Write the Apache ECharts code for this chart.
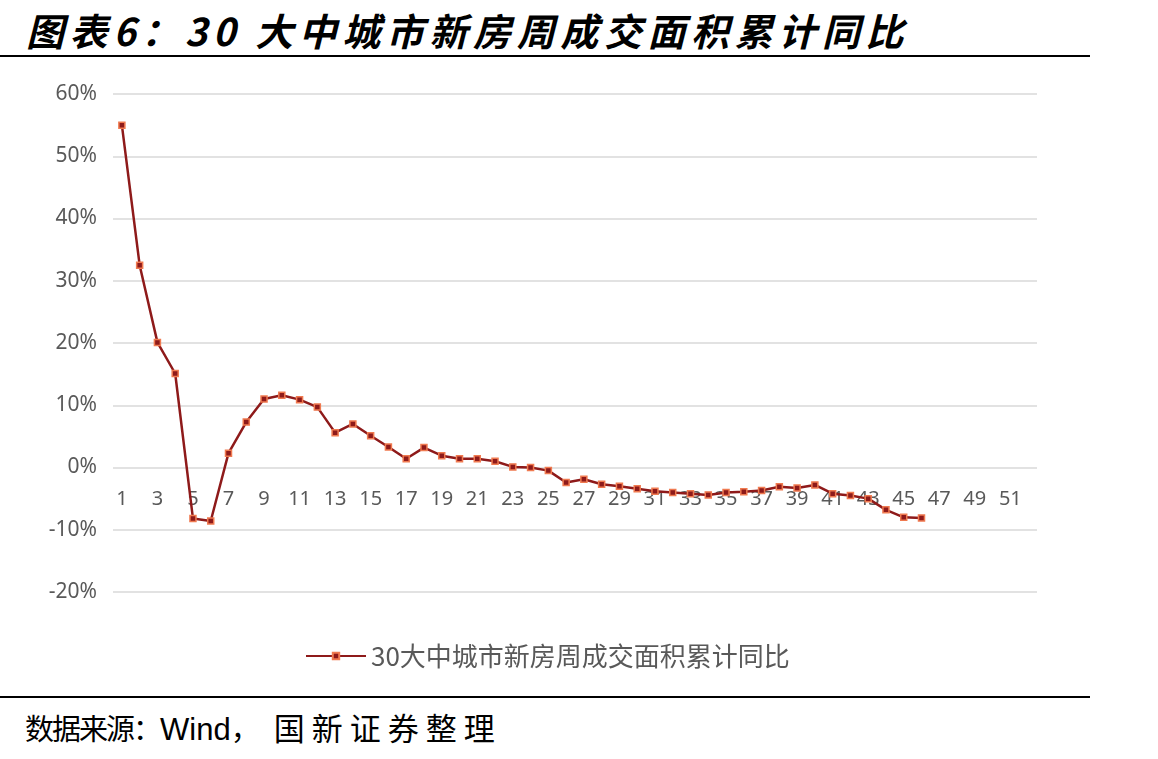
<!DOCTYPE html>
<html>
<head>
<meta charset="utf-8">
<title>30大中城市新房周成交面积累计同比</title>
<script src="https://cdn.jsdelivr.net/npm/echarts@6/dist/echarts.min.js"></script>
<style>
  html, body {
    margin: 0;
    padding: 0;
    background: #fff;
  }
  .page {
    position: relative;
    width: 1158px;
    height: 759px;
    overflow: hidden;
  }
  .page-title {
    position: absolute;
    left: 26px;
    top: 2px;
    font-family: "Noto Sans CJK SC", sans-serif;
    font-size: 38px;
    font-weight: 700;
    font-style: italic;
    letter-spacing: 5.6px;
    color: #000;
    white-space: nowrap;
  }
  .rule {
    position: absolute;
    left: 0;
    width: 1090px;
    height: 2px;
    background: #000;
  }
  .rule--top { top: 55px; }
  .rule--bottom { top: 696px; }
  .source {
    position: absolute;
    left: 25px;
    top: 707px;
    line-height: 40px;
    font-family: "Noto Sans CJK SC", sans-serif;
    font-size: 29px;
    color: #000;
    white-space: nowrap;
  }
  .source .tight { letter-spacing: -2px; }
  .source .latin { font-family: "Liberation Sans", sans-serif; font-size: 31px; }
  .source .comma { letter-spacing: 14px; }
  .source .wide { font-size: 31px; letter-spacing: 7px; }
  #chart {
    position: absolute;
    left: 0;
    top: 60px;
    width: 1158px;
    height: 630px;
  }
</style>
</head>
<body>
<div class="page">
  <div class="page-title">图表6：30 大中城市新房周成交面积累计同比</div>
  <div class="rule rule--top"></div>
  <div id="chart"></div>
  <div class="rule rule--bottom"></div>
  <div class="source"><span class="tight">数据来源：</span><span class="latin">Wind</span><span class="comma">，</span><span class="wide">国新证券整理</span></div>
</div>

<script>
// ---------------------------------------------------------------------------
// 数据
// ---------------------------------------------------------------------------
const SERIES_NAME = "30大中城市新房周成交面积累计同比";

// 周序号 1..52
const weeks = [
  1, 2, 3, 4, 5, 6, 7, 8, 9, 10, 11, 12, 13,
  14, 15, 16, 17, 18, 19, 20, 21, 22, 23, 24, 25, 26,
  27, 28, 29, 30, 31, 32, 33, 34, 35, 36, 37, 38, 39,
  40, 41, 42, 43, 44, 45, 46, 47, 48, 49, 50, 51, 52,
];

// 累计同比（%），读图估计，共 46 周
const cumYoY = [
  55.0, 32.5, 20.1, 15.1, -8.2, -8.6, 2.3, 7.3, 11.0, 11.6,
  10.9, 9.7, 5.6, 7.0, 5.1, 3.3, 1.4, 3.2, 1.9, 1.4,
  1.4, 1.0, 0.1, 0.0, -0.5, -2.4, -1.9, -2.7, -3.0, -3.4,
  -3.8, -4.0, -4.2, -4.4, -4.0, -3.9, -3.7, -3.1, -3.3, -2.8,
  -4.2, -4.5, -5.0, -6.8, -8.0, -8.1,
];

// y 轴刻度
const yMin = -20;
const yMax = 60;
const yStep = 10;

// ---------------------------------------------------------------------------
// 图表
// ---------------------------------------------------------------------------
const AXIS_TEXT = "#595959";
const GRID_LINE = "#d9d9d9";
const LINE_RED = "#8e1a1a";

const chart = echarts.init(document.getElementById("chart"));

chart.setOption({
  animation: false,
  textStyle: { fontFamily: "Noto Sans CJK SC" },
  grid: { left: 113, right: 121, top: 34, bottom: 98 },
  xAxis: {
    type: "category",
    data: weeks,
    boundaryGap: true,
    axisLine: { show: false },
    axisTick: { show: false },
    // 标签贴在 0% 线下方（onZero 在这里不生效，用负 margin 把标签上移）
    axisLabel: {
      interval: 1,
      margin: -103,
      color: AXIS_TEXT,
      fontSize: 20,
      fontFamily: "Noto Sans",
    },
  },
  yAxis: {
    type: "value",
    min: yMin,
    max: yMax,
    interval: yStep,
    axisLine: { show: false },
    axisTick: { show: false },
    axisLabel: {
      formatter: "{value}%",
      margin: 16,
      color: AXIS_TEXT,
      fontSize: 21,
      fontFamily: "Noto Sans",
    },
    splitLine: { lineStyle: { color: GRID_LINE, width: 1.5 } },
  },
  legend: {
    data: [SERIES_NAME],
    left: 300,
    top: 578,
    itemWidth: 60,
    itemHeight: 8,
    itemGap: 8,
    textStyle: { color: AXIS_TEXT, fontSize: 26 },
  },
  series: [
    {
      name: SERIES_NAME,
      type: "line",
      data: cumYoY,
      symbol: "rect",
      symbolSize: 6,
      lineStyle: { color: LINE_RED, width: 2.5 },
      itemStyle: { color: LINE_RED, borderColor: "#f07a50", borderWidth: 1.5 },
    },
  ],
});
</script>
</body>
</html>
